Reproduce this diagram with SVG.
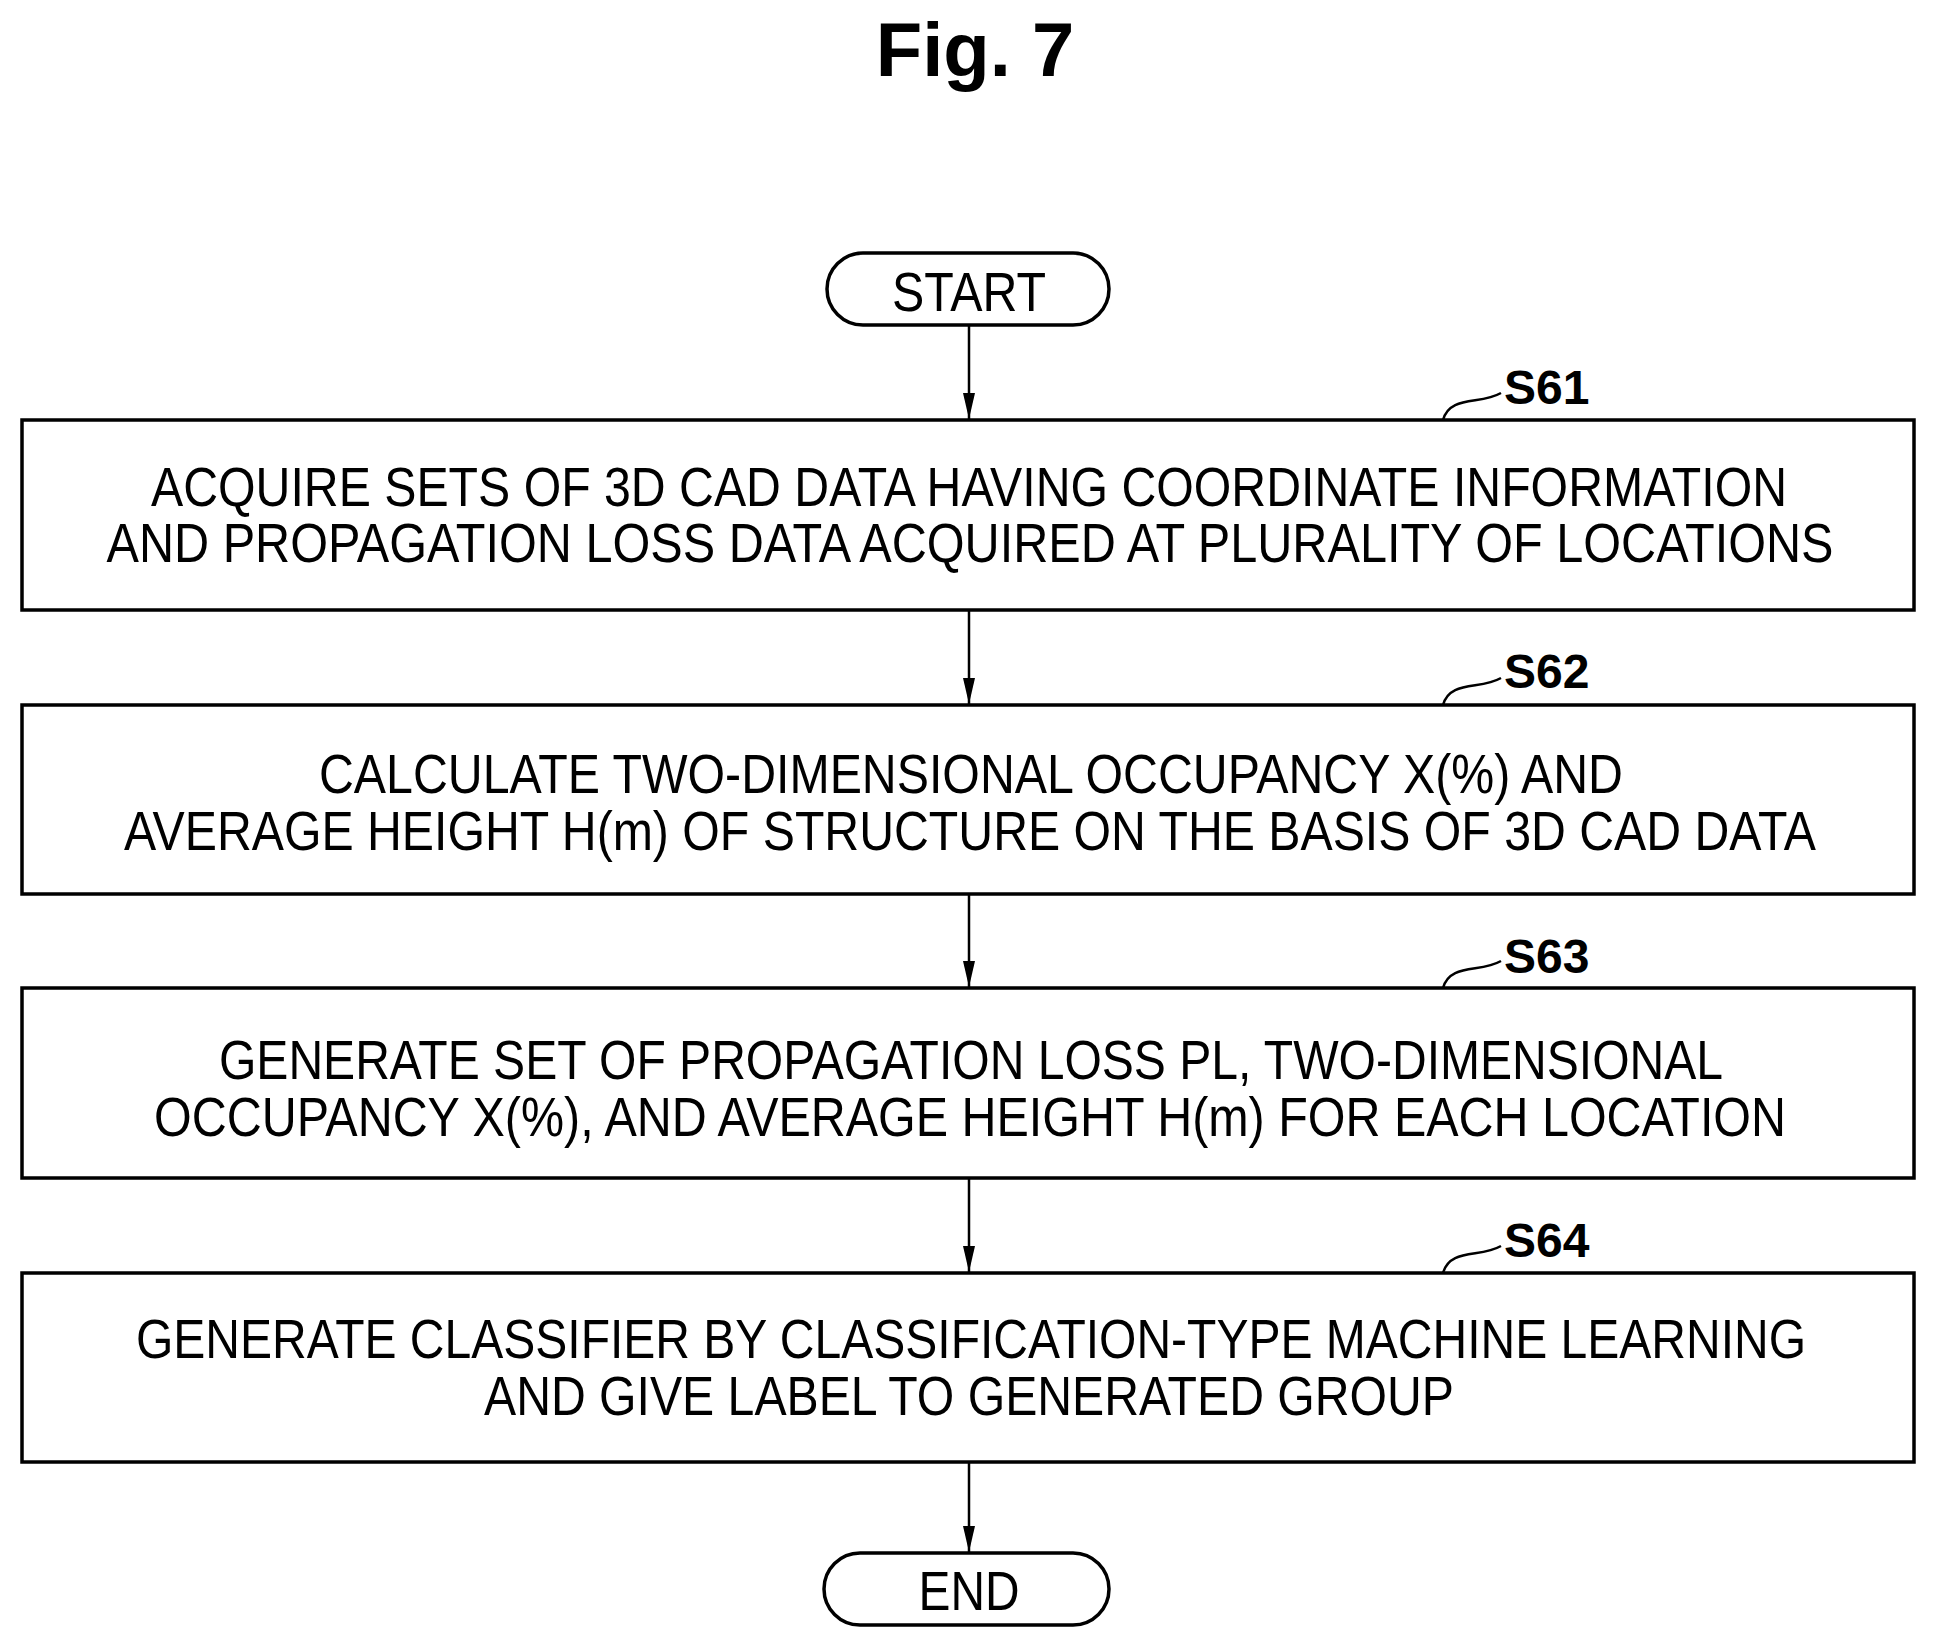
<svg xmlns="http://www.w3.org/2000/svg" width="1937" height="1649" viewBox="0 0 1937 1649">
<style>
.box{fill:#fff;stroke:#000;stroke-width:3.5}
.t{font-family:"Liberation Sans",Arial,sans-serif;font-size:55px;text-anchor:middle}
.lbl{font-family:"Liberation Sans",Arial,sans-serif;font-size:48px;font-weight:bold}
.sq{fill:none;stroke:#000;stroke-width:2.5}
.c{stroke:#000;stroke-width:2.5;fill:none}
</style>
<defs><marker id="b" markerWidth="26" markerHeight="12" refX="26" refY="6" orient="auto" markerUnits="userSpaceOnUse" viewBox="0 0 26 12"><path d="M0,0 L26,6 L0,12 Z" fill="#000"/></marker></defs>
<text x="975" y="76" font-family="Liberation Sans,Arial,sans-serif" font-size="76" font-weight="bold" text-anchor="middle">Fig. 7</text>
<g id="start"><rect class="box" x="827" y="253" width="282" height="72" rx="36"/><text class="t" x="969" y="311" textLength="154" lengthAdjust="spacingAndGlyphs">START</text></g>
<g id="s61"><rect class="box" x="22" y="420" width="1892" height="190"/>
<text class="t" x="969" y="506" textLength="1636" lengthAdjust="spacingAndGlyphs">ACQUIRE SETS OF 3D CAD DATA HAVING COORDINATE INFORMATION</text>
<text class="t" x="970" y="562" textLength="1727" lengthAdjust="spacingAndGlyphs">AND PROPAGATION LOSS DATA ACQUIRED AT PLURALITY OF LOCATIONS</text>
<path class="sq" d="M1443,420 C1450,395 1480,405 1501,393"/><text class="lbl" x="1504" y="404">S61</text></g>
<g id="s62"><rect class="box" x="22" y="705" width="1892" height="189"/>
<text class="t" x="971" y="793" textLength="1304" lengthAdjust="spacingAndGlyphs">CALCULATE TWO-DIMENSIONAL OCCUPANCY X(%) AND</text>
<text class="t" x="970" y="850" textLength="1692" lengthAdjust="spacingAndGlyphs">AVERAGE HEIGHT H(m) OF STRUCTURE ON THE BASIS OF 3D CAD DATA</text>
<path class="sq" d="M1443,705 C1450,680 1480,690 1501,678"/><text class="lbl" x="1504" y="688">S62</text></g>
<g id="s63"><rect class="box" x="22" y="988" width="1892" height="190"/>
<text class="t" x="971" y="1079" textLength="1504" lengthAdjust="spacingAndGlyphs">GENERATE SET OF PROPAGATION LOSS PL, TWO-DIMENSIONAL</text>
<text class="t" x="970" y="1136" textLength="1632" lengthAdjust="spacingAndGlyphs">OCCUPANCY X(%), AND AVERAGE HEIGHT H(m) FOR EACH LOCATION</text>
<path class="sq" d="M1443,988 C1450,963 1480,973 1501,961"/><text class="lbl" x="1504" y="973">S63</text></g>
<g id="s64"><rect class="box" x="22" y="1273" width="1892" height="189"/>
<text class="t" x="971" y="1358" textLength="1670" lengthAdjust="spacingAndGlyphs">GENERATE CLASSIFIER BY CLASSIFICATION-TYPE MACHINE LEARNING</text>
<text class="t" x="969" y="1415" textLength="970" lengthAdjust="spacingAndGlyphs">AND GIVE LABEL TO GENERATED GROUP</text>
<path class="sq" d="M1443,1273 C1450,1248 1480,1258 1501,1246"/><text class="lbl" x="1504" y="1257">S64</text></g>
<g id="end"><rect class="box" x="824" y="1553" width="285" height="72" rx="36"/><text class="t" x="969" y="1610" textLength="101" lengthAdjust="spacingAndGlyphs">END</text></g>
<g id="connectors">
<line class="c" x1="969" y1="325" x2="969" y2="419" marker-end="url(#b)"/>
<line class="c" x1="969" y1="610" x2="969" y2="704" marker-end="url(#b)"/>
<line class="c" x1="969" y1="894" x2="969" y2="987" marker-end="url(#b)"/>
<line class="c" x1="969" y1="1178" x2="969" y2="1272" marker-end="url(#b)"/>
<line class="c" x1="969" y1="1462" x2="969" y2="1552" marker-end="url(#b)"/>
</g>
</svg>
